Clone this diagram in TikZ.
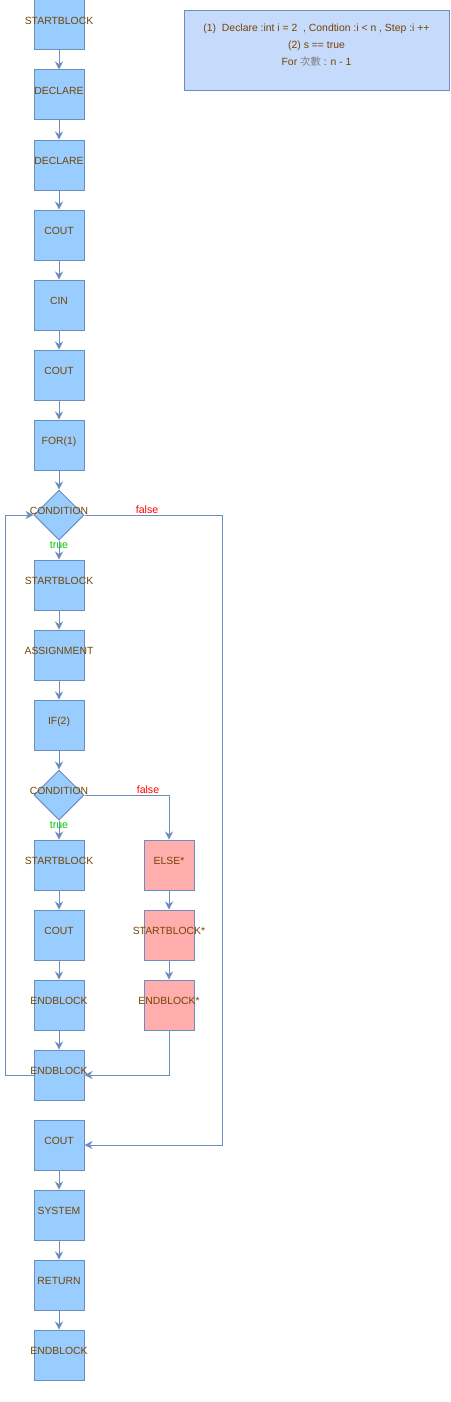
\documentclass[tikz,border=0pt]{standalone}
\usepackage{fontspec}
\setmainfont{Liberation Sans}
\newfontfamily\cjk{Noto Sans CJK TC}
\usetikzlibrary{shapes.geometric,arrows.meta}
\definecolor{boxfill}{HTML}{99CCFF}
\definecolor{boxline}{HTML}{6C8EBF}
\definecolor{elsefill}{HTML}{FFADAD}
\definecolor{notefill}{HTML}{C6DAFC}
\definecolor{txtbrown}{HTML}{774400}
\definecolor{truegreen}{HTML}{00CC00}
\newcommand{\ov}[1]{\makebox[0pt]{#1}}

\begin{document}
\begin{tikzpicture}[x=1pt, y=-1pt,
	blk/.style={draw=boxline, fill=boxfill, line width=1pt, minimum width=50pt, minimum height=50pt,
		inner sep=0pt, text height=7.4pt, text depth=9pt, text=txtbrown, font=\fontsize{10.4}{12}\selectfont},
	cond/.style={blk, shape=diamond, aspect=1},
	elsblk/.style={blk, fill=elsefill},
	arr/.style={draw=boxline, line width=1pt, -{Stealth[length=8pt, width=8pt, inset=2.5pt]}},
	tru/.style={text=truegreen, inner sep=0pt, font=\fontsize{10.6}{12}\selectfont},
	fls/.style={text=red, inner sep=0pt, font=\fontsize{10.6}{12}\selectfont}]
	\useasboundingbox (0,0) rectangle (450,1402);

	% note
	\node[draw=boxline, fill=notefill, line width=1pt, minimum width=265pt, minimum height=80pt, anchor=north west] (note) at (184,10) {};
	\node[text=txtbrown, align=center, inner sep=0pt, font=\fontsize{10.4}{17}\selectfont] (notetxt) at (316.5,45)
		{(1)\ \ Declare :int i = 2\ \ , Condtion :i < n , Step :i ++\\(2) s == true\\For {\cjk\color{gray}次數} : n - 1};

	% main column
	\node[blk] (b1) at (59,25) {\ov{STARTBLOCK}};
	\node[blk] (d1) at (59,95) {\ov{DECLARE}};
	\node[blk] (d2) at (59,165) {\ov{DECLARE}};
	\node[blk] (co1) at (59,235) {\ov{COUT}};
	\node[blk] (ci) at (59,305) {\ov{CIN}};
	\node[blk] (co2) at (59,375) {\ov{COUT}};
	\node[blk] (for) at (59,445) {\ov{FOR(1)}};
	\node[cond] (c1) at (59,515) {\ov{CONDITION}};
	\node[blk] (b2) at (59,585) {\ov{STARTBLOCK}};
	\node[blk] (as) at (59,655) {\ov{ASSIGNMENT}};
	\node[blk] (if) at (59,725) {\ov{IF(2)}};
	\node[cond] (c2) at (59,795) {\ov{CONDITION}};
	\node[blk] (b3) at (59,865) {\ov{STARTBLOCK}};
	\node[blk] (co3) at (59,935) {\ov{COUT}};
	\node[blk] (e1) at (59,1005) {\ov{ENDBLOCK}};
	\node[blk] (e2) at (59,1075) {\ov{ENDBLOCK}};
	\node[blk] (co4) at (59,1145) {\ov{COUT}};
	\node[blk] (sys) at (59,1215) {\ov{SYSTEM}};
	\node[blk] (ret) at (59,1285) {\ov{RETURN}};
	\node[blk] (e3) at (59,1355) {\ov{ENDBLOCK}};

	% else branch
	\node[elsblk] (els) at (169,865) {\ov{ELSE*}};
	\node[elsblk] (b4) at (169,935) {\ov{STARTBLOCK*}};
	\node[elsblk] (e4) at (169,1005) {\ov{ENDBLOCK*}};

	\foreach \a/\b in {b1/d1, d1/d2, d2/co1, co1/ci, ci/co2, co2/for, for/c1, c1/b2, b2/as, as/if, if/c2,
		c2/b3, b3/co3, co3/e1, e1/e2, els/b4, b4/e4, co4/sys, sys/ret, ret/e3}{
		\draw[arr] (\a) -- (\b);
		};

	% loop back and false exits
	\draw[arr] (e2.west) -- ++(-28,0) |- (c1.west);
	\draw[arr] (c1.east) -- ++(138,0) |- (co4.east);
	\draw[arr] (c2.east) -| (els.north);
	\draw[arr] (e4.south) |- (e2.east);

	\node[tru] (t1) at (59,545) {true};
	\node[tru] (t2) at (59,825) {true};
	\node[fls] (f1) at (147,510) {false};
	\node[fls] (f2) at (148,790) {false};
\end{tikzpicture}
\end{document}
